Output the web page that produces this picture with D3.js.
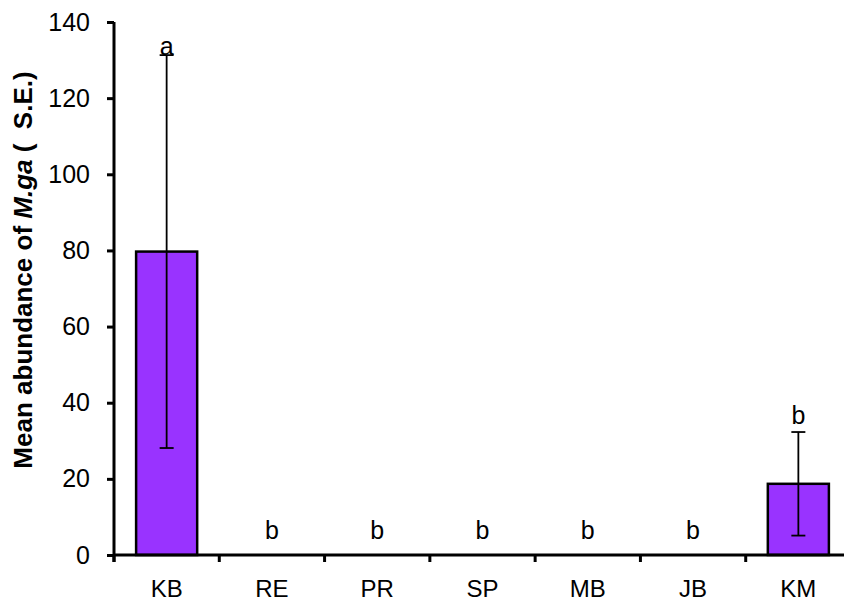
<!DOCTYPE html>
<html>
<head>
<meta charset="utf-8">
<script src="https://cdn.jsdelivr.net/npm/d3@7"></script>
<style>
  body { margin: 0; background: #fff; }
  svg text { font-family: "Liberation Sans", Arial, sans-serif; }
</style>
</head>
<body>
<script>
var sites = ["KB", "RE", "PR", "SP", "MB", "JB", "KM"];
var means = [79.7, 0, 0, 0, 0, 0, 18.7];
var se = [51.6, 0, 0, 0, 0, 0, 13.6];
var letters = ["a", "b", "b", "b", "b", "b", "b"];
var letterAt = [131.3, 4.2, 4.2, 4.2, 4.2, 4.2, 34.5];
var yTicks = [0, 20, 40, 60, 80, 100, 120, 140];

var W = 844, H = 602;
var margin = {top: 22, right: -7, bottom: 47, left: 114},
    width = W - margin.left - margin.right,
    height = H - margin.top - margin.bottom;

var svg = d3.select("body").append("svg")
    .attr("width", W)
    .attr("height", H);

var g = svg.append("g")
    .attr("transform", "translate(" + margin.left + "," + margin.top + ")");

var x = d3.scaleBand().domain(sites).range([0, width]).paddingInner(0.42).paddingOuter(0.21);
var xTick = d3.scaleLinear().domain([0, sites.length]).range([0, width]);
var y = d3.scaleLinear().domain([0, 140]).range([height, 0]);

// bars
g.selectAll("rect.bar")
    .data(means)
  .enter().append("rect")
    .attr("class", "bar")
    .attr("x", function(d, i) { return x(sites[i]); })
    .attr("width", x.bandwidth())
    .attr("y", function(d) { return y(d); })
    .attr("height", function(d) { return y(0) - y(d); })
    .attr("fill", "#9933ff")
    .attr("stroke", "#000")
    .attr("stroke-width", 2.5);

// error bars
var cap = 7;
se.forEach(function(s, i) {
    if (s <= 0) return;
    var cx = x(sites[i]) + x.bandwidth() / 2;
    var lo = y(means[i] - s), hi = y(means[i] + s);
    g.append("line").attr("x1", cx).attr("x2", cx).attr("y1", lo).attr("y2", hi)
        .attr("stroke", "#000").attr("stroke-width", 1.8);
    [lo, hi].forEach(function(yy) {
        g.append("line").attr("x1", cx - cap).attr("x2", cx + cap).attr("y1", yy).attr("y2", yy)
            .attr("stroke", "#000").attr("stroke-width", 1.8);
    });
});

// letters
g.selectAll("text.letter")
    .data(letters)
  .enter().append("text")
    .attr("class", "letter")
    .attr("x", function(d, i) { return x(sites[i]) + x.bandwidth() / 2; })
    .attr("y", function(d, i) { return y(letterAt[i]); })
    .attr("text-anchor", "middle")
    .attr("font-size", "25px")
    .text(function(d) { return d; });

// y axis
var yAxis = g.append("g")
    .call(d3.axisLeft(y).tickValues(yTicks).tickSize(7).tickPadding(17));
yAxis.select(".domain").attr("stroke-width", 3).attr("d", "M0," + (height + 7) + "V0");
yAxis.selectAll(".tick line").attr("stroke-width", 3);
yAxis.selectAll(".tick text").attr("font-size", "25px").attr("fill", "#000");

// x axis
var xAxis = g.append("g")
    .attr("transform", "translate(0," + height + ")")
    .call(d3.axisBottom(x).tickSize(0).tickPadding(25));
xAxis.select(".domain").attr("stroke-width", 3).attr("d", "M0,0H" + width);
xAxis.selectAll(".tick text").attr("font-size", "24px").attr("fill", "#000");

g.append("g").selectAll("line")
    .data(d3.range(sites.length + 1))
  .enter().append("line")
    .attr("x1", function(d) { return xTick(d); })
    .attr("x2", function(d) { return xTick(d); })
    .attr("y1", height)
    .attr("y2", height + 7)
    .attr("stroke", "#000")
    .attr("stroke-width", 3);

// y title
var title = svg.append("text")
    .attr("transform", "translate(32,270) rotate(-90)")
    .attr("text-anchor", "middle")
    .attr("font-size", "26px")
    .attr("font-weight", "bold")
    .style("white-space", "pre");
title.append("tspan").text("Mean abundance of ");
title.append("tspan").attr("font-style", "italic").text("M.ga");
title.append("tspan").text(" (  S.E.)");
</script>
</body>
</html>
